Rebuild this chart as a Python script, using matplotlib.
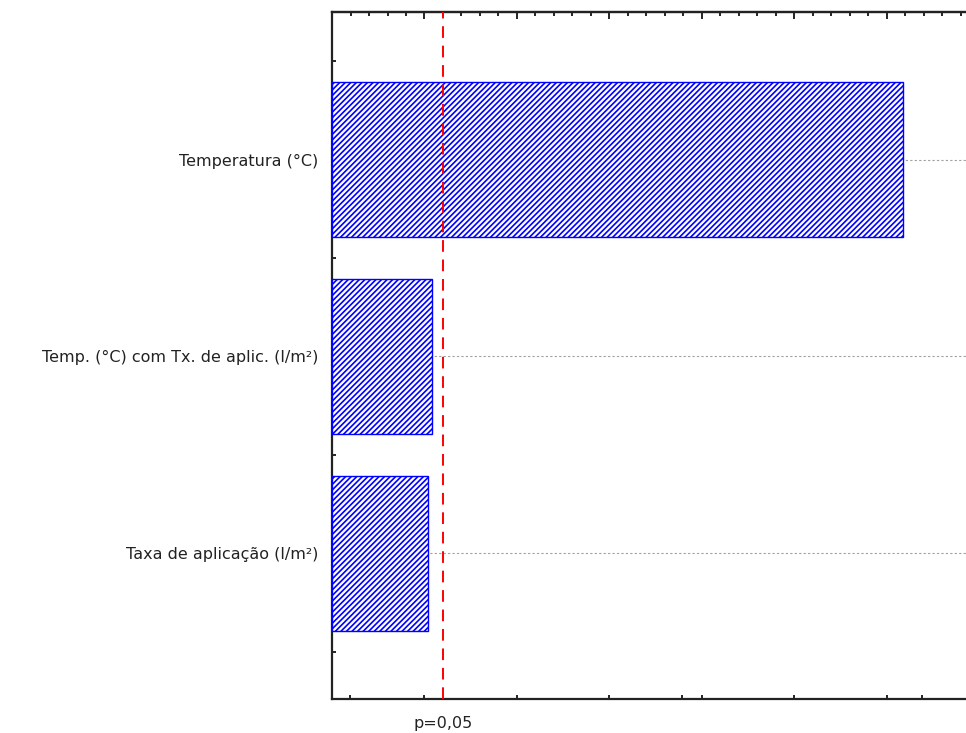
import numpy as np
import matplotlib
matplotlib.use('Agg')
import matplotlib.pyplot as plt
from matplotlib import transforms

# effects (standardized, absolute value)
factores = ['Temperatura (°C)',
            'Temp. (°C) com Tx. de aplic. (l/m²)',
            'Taxa de aplicação (l/m²)']
efeitos = [12.35, 2.16, 2.08]
p_critico = 2.40
p_rotulo = 'p=0,05'

# tick marks as seen on the frame
ticks_baixo = [0.39, 2, 4, 6, 7.57, 8, 10, 12, 12.76]
ticks_cima_maior = [0, 2, 4, 6, 8, 10, 12]

plt.rcParams['font.family'] = ['DejaVu Sans']
plt.rcParams['hatch.linewidth'] = 1.2
plt.rcParams['hatch.color'] = '#0000ff'

fig = plt.figure(figsize=(9.66, 7.33), dpi=100)
ax = fig.add_axes([0.3437, 0.0464, 0.6563, 0.9372])

y = np.arange(len(factores))
ax.barh(y, efeitos, height=0.79, color='white', edgecolor='#0000ff',
        hatch='//////', linewidth=1.0, zorder=3)

# dotted guide lines through the bar centres
for yi in y:
    ax.axhline(yi, color='#a0a0a0', lw=0.8, ls=(0, (2, 2)), zorder=1)

ax.axvline(p_critico, color='#ff0000', lw=1.4, ls=(0, (6, 4)), zorder=4)

ax.set_xlim(0, 13.71)
ax.set_ylim(2.741, -0.751)

ax.set_yticks(y)
ax.set_yticklabels(factores, fontsize=11.5, color='#222222')
ax.set_yticks([-0.5, 0.5, 1.5, 2.5], minor=True)
ax.tick_params(axis='y', which='major', length=0, pad=10)
ax.tick_params(axis='y', which='minor', direction='in', length=3, width=1.2)

ax.set_xticks(ticks_baixo)
ax.set_xticklabels([])
ax.tick_params(axis='x', direction='in', length=3, width=1.2)

sec = ax.secondary_xaxis('top')
sec.set_xticks(ticks_cima_maior)
sec.set_xticks(np.arange(0, 13.71, 0.4), minor=True)
sec.set_xticklabels([])
sec.tick_params(which='major', direction='in', length=5, width=1.2)
sec.tick_params(which='minor', direction='in', length=3, width=1.2)
sec.spines['top'].set_linewidth(1.6)
sec.spines['top'].set_color('#333333')

for s in ['left', 'bottom', 'top']:
    ax.spines[s].set_linewidth(1.6)
    ax.spines[s].set_color('#222222')
ax.spines['right'].set_visible(False)

trans = transforms.blended_transform_factory(ax.transData, ax.transAxes)
ax.text(p_critico, -0.025, p_rotulo, transform=trans, ha='center', va='top',
        fontsize=11.5, color='#222222')

fig.savefig('out.png', dpi=100)
